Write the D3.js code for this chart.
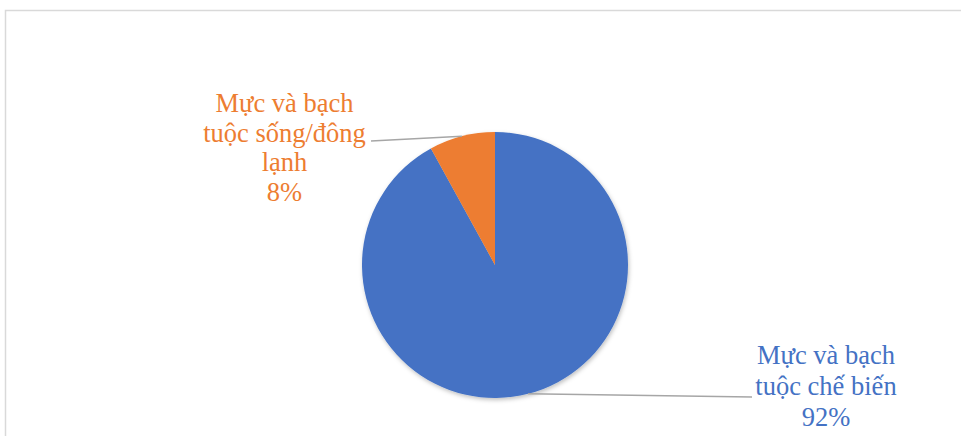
<!DOCTYPE html>
<html>
<head>
<meta charset="utf-8">
<script src="https://cdn.jsdelivr.net/npm/d3@7"></script>
<style>
  html, body { margin: 0; padding: 0; background: #ffffff; }
  svg { display: block; }
  .lbl { font-family: "Liberation Serif", "Times New Roman", serif; }
</style>
</head>
<body>
<svg id="chart" width="961" height="436"></svg>
<script>
// Export share of squid and octopus products
const categories = ["Mực và bạch tuộc chế biến", "Mực và bạch tuộc sống/đông lạnh"];
const shares = [92, 8];
const colors = ["#4472C4", "#ED7D31"];
const labelLines = [
  ["Mực và bạch", "tuộc chế biến", "92%"],
  ["Mực và bạch", "tuộc sống/đông", "lạnh", "8%"]
];

const svg = d3.select("#chart");
const W = 961, H = 436;
const cx = 495, cy = 265, r = 133;

// chart area frame
svg.append("rect")
  .attr("x", 5.5).attr("y", 10.5)
  .attr("width", W + 10).attr("height", H + 10)
  .attr("fill", "#ffffff")
  .attr("stroke", "#d9d9d9").attr("stroke-width", 1.5);

const defs = svg.append("defs");
const f = defs.append("filter").attr("id", "shadow")
  .attr("x", "-20%").attr("y", "-20%").attr("width", "140%").attr("height", "140%");
f.append("feDropShadow").attr("dx", 1).attr("dy", 2).attr("stdDeviation", 2)
  .attr("flood-color", "#000").attr("flood-opacity", 0.25);

const pie = d3.pie().sort(null).value(d => d)(shares);
const arc = d3.arc().innerRadius(0).outerRadius(r);

const g = svg.append("g").attr("transform", `translate(${cx},${cy})`);
g.append("g").attr("filter", "url(#shadow)")
  .selectAll("path").data(pie).join("path")
  .attr("d", arc)
  .attr("fill", (d, i) => colors[i]);

// label placement: centre x, first baseline, line step, leader end
const labelPos = [
  { x: 826, y: 364, step: 31.2, lineEnd: [752, 397] },
  { x: 284.5, y: 112, step: 29.7, lineEnd: [371, 141] }
];

pie.forEach((d, i) => {
  const a = (d.startAngle + d.endAngle) / 2;
  const px = cx + r * Math.sin(a), py = cy - r * Math.cos(a);
  svg.append("line")
    .attr("x1", px).attr("y1", py)
    .attr("x2", labelPos[i].lineEnd[0]).attr("y2", labelPos[i].lineEnd[1])
    .attr("stroke", "#a6a6a6").attr("stroke-width", 1.5);

  const t = svg.append("text")
    .attr("class", "lbl")
    .attr("font-size", 26.5)
    .attr("fill", colors[i])
    .attr("text-anchor", "middle");
  labelLines[i].forEach((s, k) => {
    t.append("tspan")
      .attr("x", labelPos[i].x)
      .attr("y", labelPos[i].y + k * labelPos[i].step)
      .text(s);
  });
});
</script>
</body>
</html>
